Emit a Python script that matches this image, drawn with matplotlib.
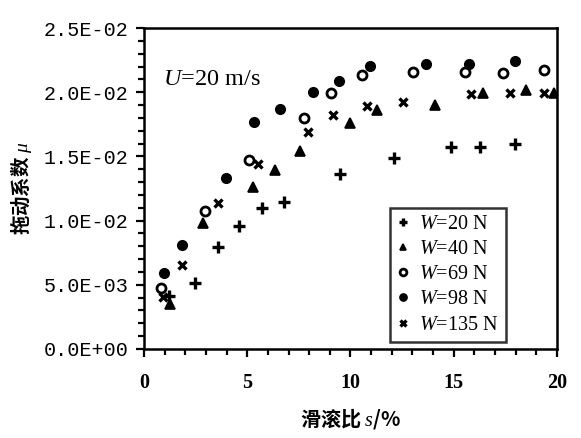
import numpy as np
import matplotlib
matplotlib.use('Agg')
import matplotlib.pyplot as plt
from matplotlib.ticker import MultipleLocator, FuncFormatter

# slide-roll ratio s (%) and traction coefficient mu for each load
s_20 = [1.22, 2.47, 3.57, 4.6, 5.70, 6.78, 9.49, 12.12, 14.85, 16.27, 17.97]
mu_20 = [4.13, 5.11, 7.97, 9.58, 10.96, 11.47, 13.63, 14.9, 15.71, 15.71, 15.94]

s_40 = [1.26, 2.84, 5.26, 6.34, 7.55, 9.98, 11.27, 14.09, 16.4, 18.48, 19.86]
mu_40 = [3.5, 9.84, 12.64, 13.94, 15.45, 17.58, 18.61, 19.0, 19.91, 20.17, 19.96]

s_69 = [0.81, 2.95, 5.08, 7.76, 9.06, 10.54, 13.01, 15.54, 17.37, 19.38]
mu_69 = [4.77, 10.77, 14.7, 17.97, 19.91, 21.34, 21.55, 21.55, 21.47, 21.73]

s_98 = [0.98, 1.82, 3.97, 5.34, 6.6, 8.18, 9.46, 10.94, 13.66, 15.75, 17.97]
mu_98 = [5.94, 8.07, 13.34, 17.65, 18.72, 20.0, 20.9, 22.06, 22.17, 22.17, 22.45]

s_135 = [0.9, 1.82, 3.57, 5.54, 7.93, 9.17, 10.78, 12.53, 15.83, 17.72, 19.38]
mu_135 = [4.07, 6.54, 11.35, 14.4, 16.93, 18.22, 18.95, 19.21, 19.86, 19.96, 19.96]

labels = ['$\\mathit{W}$=20 N', '$\\mathit{W}$=40 N', '$\\mathit{W}$=69 N',
          '$\\mathit{W}$=98 N', '$\\mathit{W}$=135 N']

plt.rcParams['font.family'] = ['Liberation Serif', 'DejaVu Sans']
plt.rcParams['mathtext.fontset'] = 'custom'
plt.rcParams['mathtext.it'] = 'Liberation Serif:italic'
plt.rcParams['mathtext.rm'] = 'Liberation Serif'

fig = plt.figure(figsize=(5.81, 4.38), dpi=100)
ax = fig.add_axes([0.2478, 0.2032, 0.7109, 0.7328])

k = 1e-3
ax.plot(s_20, np.array(mu_20) * k, ls='none', marker='+', ms=8.5, mew=2.4, color='black', label=labels[0])
ax.plot(s_40, np.array(mu_40) * k, ls='none', marker='^', ms=6.5, mew=1.2, mfc='black', mec='black', label=labels[1])
ax.plot(s_69, np.array(mu_69) * k, ls='none', marker='o', ms=6.5, mew=2.0, mfc='white', mec='black', label=labels[2])
ax.plot(s_98, np.array(mu_98) * k, ls='none', marker='o', ms=7, mfc='black', mec='black', label=labels[3])
ax.plot(s_135, np.array(mu_135) * k, ls='none', marker='x', ms=6, mew=2.4, color='black', label=labels[4])

ax.set_xlim(0, 20)
ax.set_ylim(0, 0.025)
ax.xaxis.set_major_locator(MultipleLocator(5))
ax.xaxis.set_minor_locator(MultipleLocator(1))
ax.yaxis.set_major_locator(MultipleLocator(0.005))
ax.yaxis.set_minor_locator(MultipleLocator(0.001))
ax.yaxis.set_major_formatter(FuncFormatter(lambda v, p: '%.1E' % v))

for sp in ax.spines.values():
    sp.set_linewidth(1.8)
ax.tick_params(which='both', direction='out', width=1.6, color='black')
ax.tick_params(which='major', length=6)
ax.tick_params(which='minor', length=4)
ax.tick_params(axis='y', labelsize=14.5, pad=5)
ax.tick_params(axis='x', labelsize=14.5, pad=11)
for t in ax.get_yticklabels():
    t.set_fontfamily('Liberation Mono')
for t in ax.get_xticklabels():
    t.set_fontweight('bold')

ax.text(0.92, 0.0210, '$\\mathit{U}$=20 m/s', fontsize=17.5, va='center')

leg = ax.legend(loc='lower left', bbox_to_anchor=(0.596, 0.023, 0.28, 0.433), mode='expand',
                fontsize=14.5, frameon=True, fancybox=False, edgecolor='black',
                handlelength=0.6, handletextpad=0.5, borderpad=0.35, labelspacing=0.3,
                markerscale=0.75, borderaxespad=0)
leg.get_frame().set_linewidth(1.8)

cjk = ['Noto Sans CJK SC', 'DejaVu Sans']
ax.set_xlabel('滑滚比 $\\mathit{s}$/%', fontsize=14.5, fontweight='bold', family=cjk, labelpad=10)
ax.set_ylabel('拖动系数 $\\mathit{\\mu}$', fontsize=14, fontweight='bold', family=cjk, labelpad=7)

fig.savefig('out.png', dpi=100)
